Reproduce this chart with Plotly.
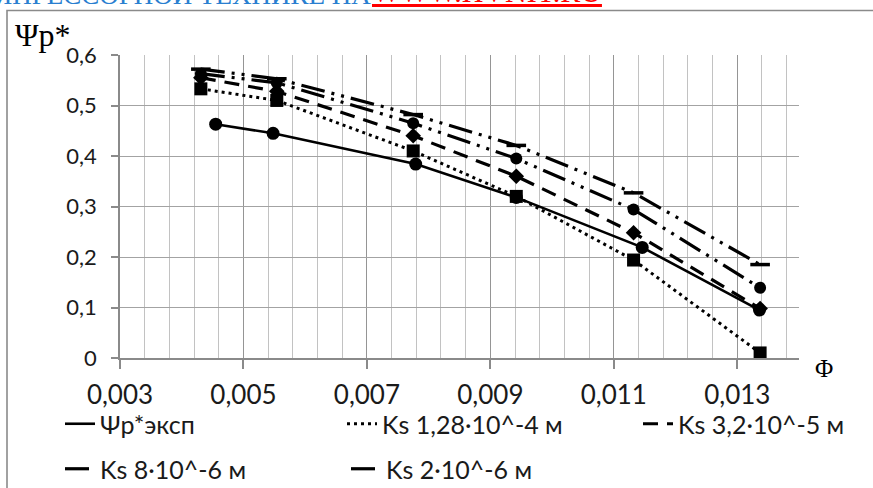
import plotly.graph_objects as go

# ---- data ----
x_exp = [0.00455, 0.00548, 0.00779, 0.00942, 0.01146, 0.01336]
y_exp = [0.463, 0.445, 0.384, 0.318, 0.219, 0.095]

x_ks = [0.00431, 0.00554, 0.00775, 0.00942, 0.01132, 0.01337]
y_ks128e4 = [0.533, 0.510, 0.410, 0.320, 0.194, 0.010]
y_ks32e5 = [0.555, 0.528, 0.440, 0.360, 0.248, 0.098]
y_ks8e6 = [0.563, 0.545, 0.465, 0.395, 0.294, 0.139]
y_ks2e6 = [0.572, 0.553, 0.482, 0.421, 0.327, 0.185]

names = ["Ψр*эксп", "Ks 1,28·10^-4 м", "Ks 3,2·10^-5 м", "Ks 8·10^-6 м", "Ks 2·10^-6 м"]

x_tickvals = [0.003, 0.005, 0.007, 0.009, 0.011, 0.013]
x_ticktext = ["0,003", "0,005", "0,007", "0,009", "0,011", "0,013"]
y_tickvals = [0, 0.1, 0.2, 0.3, 0.4, 0.5, 0.6]
y_ticktext = ["0", "0,1", "0,2", "0,3", "0,4", "0,5", "0,6"]

FONT = "Lato, 'Open Sans', sans-serif"
SERIF = "'Liberation Serif', 'DejaVu Serif', serif"

series = [
    (x_exp, y_exp, names[0], "solid", 2.6, "circle", 13, "legend"),
    (x_ks, y_ks128e4, names[1], "3px,4px", 3, "square", 13, "legend2"),
    (x_ks, y_ks32e5, names[2], "15px,9px", 3.2, "diamond", 12, "legend3"),
    (x_ks, y_ks8e6, names[3], "24px,7px,3px,7px,3px,7px", 3.2, "circle", 12, "legend4"),
    (x_ks, y_ks2e6, names[4], "24px,7px,3px,7px,3px,7px", 3.2, "line-ew", 14, "legend5"),
]

fig = go.Figure()
for xs, ys, nm, dash, lw, sym, ms, lg in series:
    fig.add_trace(go.Scatter(
        x=xs, y=ys, mode="lines", name=nm, legend=lg,
        line=dict(color="black", width=lw, dash=dash),
        cliponaxis=False,
    ))
    mk = dict(symbol=sym, size=ms, color="black")
    if sym == "line-ew":
        mk["line"] = dict(color="black", width=3.5)
    fig.add_trace(go.Scatter(
        x=xs, y=ys, mode="markers", showlegend=False, marker=mk,
        cliponaxis=False, hoverinfo="skip",
    ))

# invisible companion trace so the label-carrying overlay x axis is drawn
fig.add_trace(go.Scatter(x=x_exp, y=y_exp, xaxis="x2", mode="markers",
                         marker=dict(opacity=0), showlegend=False, hoverinfo="skip"))

W, H = 873, 488
L, R, T, B = 120, 74, 55, 130
PW, PH = W - L - R, H - T - B


def px2paper_x(px):
    return (px - L) / PW


def px2paper_y(py):
    return (H - B - py) / PH


LEG_FONT = dict(family=FONT, size=25, color="#1a1a1a")


def legend_at(px, py):
    return dict(
        orientation="h", xref="container", yref="container",
        x=px / W, xanchor="left", y=1 - py / H, yanchor="middle",
        font=LEG_FONT, bgcolor="rgba(0,0,0,0)", itemwidth=30,
    )


fig.update_layout(
    width=W, height=H,
    margin=dict(l=L, r=R, t=T, b=B, autoexpand=False),
    paper_bgcolor="white", plot_bgcolor="white",
    font=dict(family=FONT, size=21, color="#1a1a1a"),
    xaxis=dict(
        range=[0.003, 0.014], tickvals=x_tickvals, ticktext=x_ticktext,
        showticklabels=False,
        showgrid=True, gridcolor="#959595", gridwidth=1.4,
        minor=dict(tickmode="linear", dtick=0.0004, tick0=0.003, showgrid=True,
                   gridcolor="#c2c2c2", gridwidth=1.3, ticks=""),
        showline=True, linecolor="#8a8a8a", linewidth=1.5,
        ticks="outside", ticklen=9, tickcolor="#8a8a8a", tickwidth=1.5,
        zeroline=False, automargin=False,
    ),
    xaxis2=dict(
        overlaying="x", side="bottom", anchor="y", matches="x",
        range=[0.003, 0.014], tickvals=x_tickvals, ticktext=x_ticktext,
        showgrid=False, showline=False, zeroline=False, automargin=False,
        ticks="outside", ticklen=14, tickcolor="rgba(0,0,0,0)",
        tickfont=dict(family=FONT, size=26, color="#1a1a1a"),
    ),
    yaxis=dict(
        range=[0, 0.6], tickvals=y_tickvals, ticktext=y_ticktext,
        showgrid=True, gridcolor="#a3a3a3", gridwidth=1.4,
        showline=True, linecolor="#8a8a8a", linewidth=1.5,
        ticks="outside", ticklen=7, tickcolor="#8a8a8a", tickwidth=1.5,
        ticklabelstandoff=10, zeroline=False, automargin=False,
        tickfont=dict(family=FONT, size=22, color="#1a1a1a"),
    ),
    legend=legend_at(60, 424),
    legend2=legend_at(342, 424),
    legend3=legend_at(638, 424),
    legend4=legend_at(60, 469),
    legend5=legend_at(346, 469),
    showlegend=True,
)

# outer chart frame (extends past the right and bottom of the picture)
fig.add_shape(type="rect", xref="paper", yref="paper",
              x0=px2paper_x(7), x1=px2paper_x(W + 10),
              y0=px2paper_y(H + 10), y1=px2paper_y(10.5),
              line=dict(color="#8a8a8a", width=1.6), fillcolor="rgba(0,0,0,0)", layer="below")

# axis titles
fig.add_annotation(text="Ψр*", xref="paper", yref="paper",
                   x=px2paper_x(13), xanchor="left", y=px2paper_y(35), yanchor="middle",
                   showarrow=False, font=dict(family=SERIF, size=32, color="black"))
fig.add_annotation(text="Φ", xref="paper", yref="paper",
                   x=px2paper_x(824), xanchor="center", y=px2paper_y(368), yanchor="middle",
                   showarrow=False, font=dict(family=SERIF, size=25, color="black"))

# cut-off watermark line at the very top
fig.add_annotation(text="ПОРТАЛ О КОМПРЕССОРНОЙ ТЕХНИКЕ НА", xref="paper", yref="paper",
                   x=px2paper_x(373), xanchor="right", y=px2paper_y(-5), yanchor="middle",
                   showarrow=False, font=dict(family=SERIF, size=27, color="#2a7fd0"))
fig.add_annotation(text="<u>WWW.HVNIT.RU</u>", xref="paper", yref="paper",
                   x=px2paper_x(370), xanchor="left", y=px2paper_y(-9), yanchor="middle",
                   showarrow=False, font=dict(family=SERIF, size=30, color="#ff0000"))

fig.write_html(
    "out.html",
    config={"displayModeBar": False},
    post_script="document.body.style.margin='0';document.body.style.overflow='hidden';",
)
